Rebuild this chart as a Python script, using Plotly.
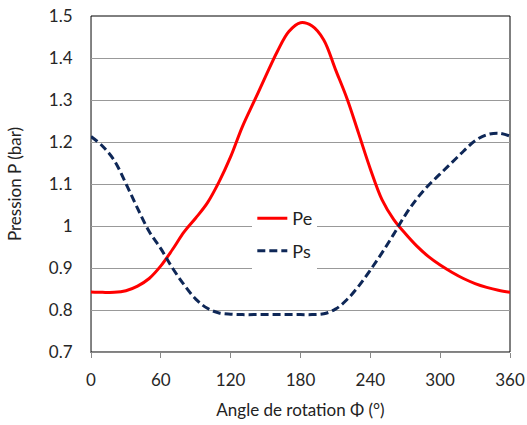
import plotly.graph_objects as go

angles = [0, 10, 20, 30, 40, 50, 60, 70, 80, 90, 100, 110, 120, 130, 140, 150, 160, 170, 180,
          190, 200, 210, 220, 230, 240, 250, 260, 270, 280, 290, 300, 310, 320, 330, 340, 350, 360]
pe = [0.843, 0.842, 0.842, 0.846, 0.857, 0.875, 0.905, 0.944, 0.986, 1.019, 1.055, 1.105, 1.165,
      1.236, 1.296, 1.356, 1.415, 1.463, 1.484, 1.476, 1.443, 1.373, 1.303, 1.220, 1.136, 1.063,
      1.016, 0.982, 0.952, 0.927, 0.907, 0.890, 0.875, 0.863, 0.854, 0.847, 0.842]
ps = [1.213, 1.190, 1.156, 1.101, 1.042, 0.987, 0.946, 0.900, 0.860, 0.826, 0.804, 0.793, 0.790,
      0.789, 0.789, 0.789, 0.789, 0.789, 0.789, 0.789, 0.791, 0.802, 0.825, 0.857, 0.895, 0.936,
      0.980, 1.026, 1.065, 1.097, 1.124, 1.151, 1.178, 1.203, 1.217, 1.221, 1.214]

x_ticks = [0, 60, 120, 180, 240, 300, 360]
y_ticks = [0.7, 0.8, 0.9, 1.0, 1.1, 1.2, 1.3, 1.4, 1.5]
y_ticklabels = ["0.7", "0.8", "0.9", "1", "1.1", "1.2", "1.3", "1.4", "1.5"]

FONT = "Lato"
fig = go.Figure()
fig.add_trace(go.Scatter(x=angles, y=pe, name="Pe", mode="lines", legendgroup="a",
                         line=dict(color="#FF0000", width=3, shape="spline", smoothing=1.0)))
fig.add_trace(go.Scatter(x=angles, y=ps, name="Ps", mode="lines", legendgroup="b",
                         line=dict(color="#0E2757", width=3, shape="spline", smoothing=1.0,
                                   dash="8px,4px")))

fig.update_layout(
    width=527, height=425,
    margin=dict(l=91, r=17, t=16, b=73, autoexpand=False),
    paper_bgcolor="white", plot_bgcolor="white",
    font=dict(family=FONT, size=17, color="#262626"),
    legend=dict(x=0.385, y=0.452, xanchor="left", yanchor="top", bgcolor="white",
                font=dict(family=FONT, size=18, color="#222222"), tracegroupgap=6,
                itemwidth=30),
    shapes=[dict(type="rect", xref="paper", yref="paper", x0=0, x1=1, y0=0, y1=1,
                 line=dict(color="#000000", width=1), layer="below")],
)
fig.update_xaxes(range=[0, 360], tickvals=x_ticks, showgrid=False, zeroline=False,
                 showline=True, linecolor="#888888", linewidth=1, automargin=False,
                 ticks="outside", ticklen=5, tickcolor="#888888", ticklabelstandoff=8,
                 title=dict(text="Angle de rotation Φ (°)", font=dict(family=FONT, size=17, color="#222222"),
                            standoff=14),
                 tickfont=dict(family=FONT, size=17, color="#262626"))
fig.update_yaxes(range=[0.7, 1.5], tickvals=y_ticks, ticktext=y_ticklabels, showgrid=True,
                 gridcolor="#999999", gridwidth=1, zeroline=False, automargin=False,
                 showline=True, linecolor="#888888", linewidth=1,
                 ticks="", ticklabelstandoff=14,
                 title=dict(text="Pression P (bar)", font=dict(family=FONT, size=17, color="#222222"),
                            standoff=22),
                 tickfont=dict(family=FONT, size=17, color="#262626"))

fig.write_html("out.html")
